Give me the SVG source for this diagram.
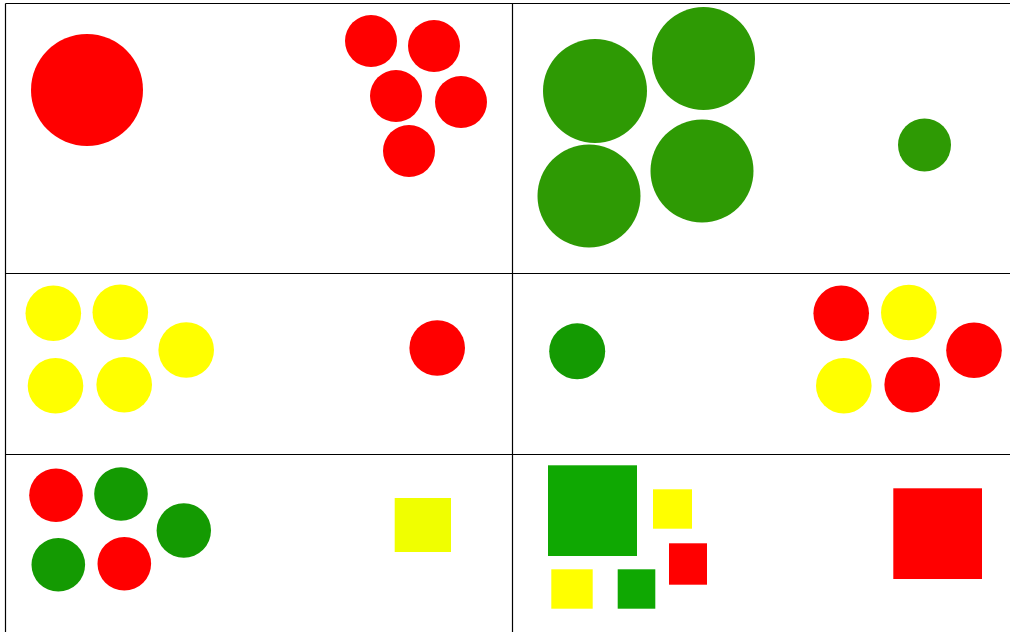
<svg xmlns="http://www.w3.org/2000/svg" width="1010" height="632" viewBox="0 0 1010 632">
<style>
.red{fill:#ff0000}
.g1{fill:#2e9a04}
.g2{fill:#149a02}
.g3{fill:#0fa802}
.yel{fill:#ffff00}
.yel2{fill:#f0ff00}
.grid{stroke:#000;stroke-width:1.2;fill:none}
</style>
<rect width="1010" height="632" fill="#ffffff"/>
<g id="grid" class="grid">
<line x1="5.5" y1="3.5" x2="1010" y2="3.5"/>
<line x1="5.5" y1="3.5" x2="5.5" y2="632"/>
<line x1="512.5" y1="3.5" x2="512.5" y2="632"/>
<line x1="5.5" y1="273.5" x2="1010" y2="273.5"/>
<line x1="5.5" y1="454.5" x2="1010" y2="454.5"/>
</g>
<g id="cell-1-1">
<circle class="red" cx="87" cy="90" r="56"/>
<circle class="red" cx="371" cy="41" r="26"/>
<circle class="red" cx="434" cy="46" r="26"/>
<circle class="red" cx="396" cy="96" r="26"/>
<circle class="red" cx="461" cy="102" r="26"/>
<circle class="red" cx="409" cy="151" r="26"/>
</g>
<g id="cell-1-2">
<circle class="g1" cx="595" cy="91" r="52"/>
<circle class="g1" cx="703.5" cy="58.5" r="51.5"/>
<circle class="g1" cx="589" cy="196" r="51.5"/>
<circle class="g1" cx="702" cy="171" r="51.5"/>
<circle class="g1" cx="924.5" cy="145" r="26.5"/>
</g>
<g id="cell-2-1">
<circle class="yel" cx="53.3" cy="313.3" r="27.8"/>
<circle class="yel" cx="120.3" cy="312.2" r="27.8"/>
<circle class="yel" cx="186.2" cy="350" r="27.8"/>
<circle class="yel" cx="55.5" cy="385.8" r="27.8"/>
<circle class="yel" cx="124.2" cy="384.7" r="27.8"/>
<circle class="red" cx="437.2" cy="348" r="27.8"/>
</g>
<g id="cell-2-2">
<circle class="g2" cx="577.2" cy="351.3" r="28"/>
<circle class="red" cx="841.2" cy="313.3" r="27.8"/>
<circle class="yel" cx="908.8" cy="312.5" r="27.8"/>
<circle class="red" cx="974" cy="350.3" r="27.8"/>
<circle class="yel" cx="843.8" cy="385.7" r="27.8"/>
<circle class="red" cx="912.2" cy="384.7" r="27.8"/>
</g>
<g id="cell-3-1">
<circle class="red" cx="56" cy="495.2" r="26.8"/>
<circle class="g2" cx="121" cy="494" r="26.8"/>
<circle class="g2" cx="183.8" cy="530.5" r="27.2"/>
<circle class="g2" cx="58.3" cy="564.8" r="26.8"/>
<circle class="red" cx="124.3" cy="563.7" r="26.8"/>
<rect class="yel2" x="394.7" y="498" width="56.3" height="54"/>
</g>
<g id="cell-3-2">
<rect class="g3" x="548" y="465.3" width="89" height="90.7"/>
<rect class="yel" x="653" y="489.3" width="39" height="39.4"/>
<rect class="red" x="669" y="543.3" width="38" height="41.4"/>
<rect class="yel" x="551.3" y="569.3" width="41.4" height="39.4"/>
<rect class="g3" x="617.7" y="569.3" width="37.6" height="39.4"/>
<rect class="red" x="893.3" y="488.3" width="88.7" height="90.7"/>
</g>
</svg>
